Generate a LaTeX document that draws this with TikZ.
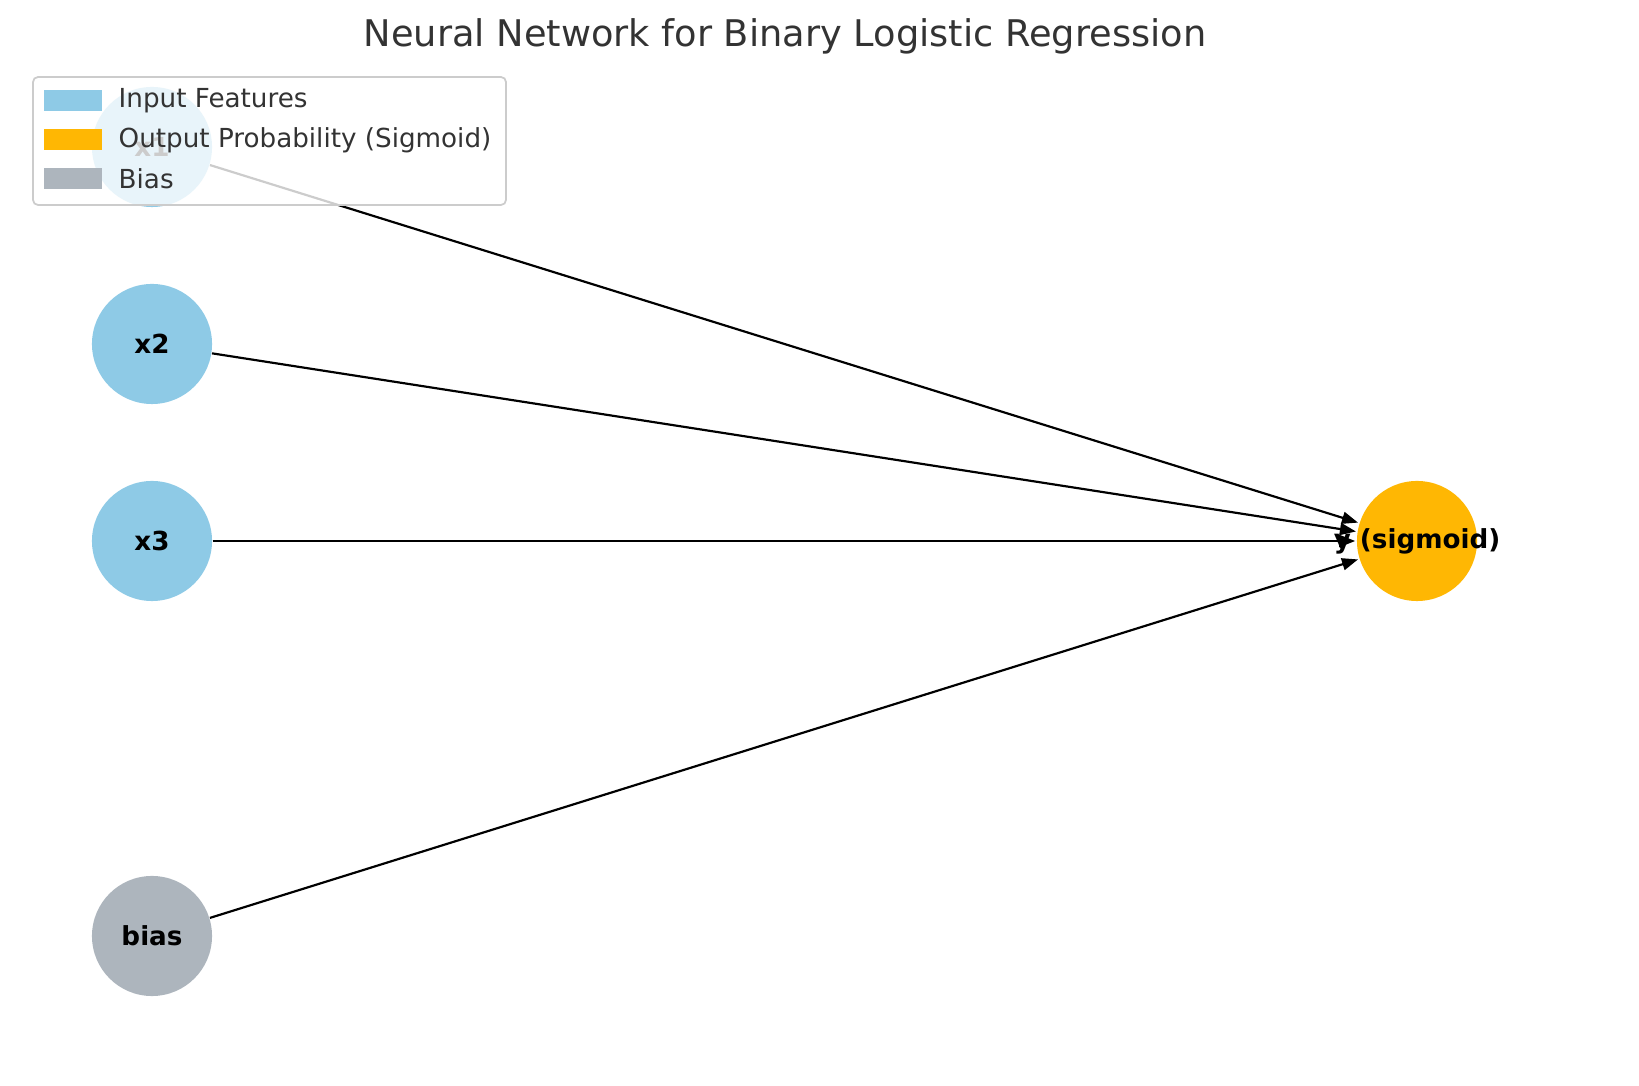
\documentclass[tikz,border=0pt]{standalone}
\usepackage{fontspec}
\setmainfont{DejaVu Sans}
\usepackage{tikz}
\usetikzlibrary{arrows.meta}
\definecolor{featblue}{HTML}{8ECAE6}
\definecolor{outorange}{HTML}{FFB703}
\definecolor{biasgrey}{HTML}{ADB5BD}
\definecolor{txtgrey}{HTML}{333333}

\begin{document}
\begin{tikzpicture}[x=0.01cm, y=-0.01cm,
        neuron/.style={circle, minimum size=1.2cm, inner sep=0pt,
            font=\fontsize{7.45}{9}\selectfont\bfseries},
        link/.style={-{Stealth[length=0.16cm, width=0.12cm, inset=0pt]},
            line width=0.62pt, shorten >=0.3pt},
        swatch/.style={minimum width=0.58cm, minimum height=0.21cm,
            inner sep=0pt},
        legtext/.style={anchor=west, inner sep=0pt, text=txtgrey,
            font=\fontsize{7.45}{9}\selectfont}]
        \useasboundingbox (0,0) rectangle (1639,1086);

        \node[text=txtgrey, font=\fontsize{10.45}{12}\selectfont] (title)
        at (785,36) {Neural Network for Binary Logistic Regression};

        % input layer
        \node[neuron, fill=featblue] (x1) at (152,147) {x1};
        \node[neuron, fill=featblue] (x2) at (152,344) {x2};
        \node[neuron, fill=featblue] (x3) at (152,541) {x3};
        \node[neuron, fill=biasgrey] (bias) at (152,936) {bias};

        % output
        \node[neuron, fill=outorange] (y) at (1417,541) {};

        \draw[link] (x1) -- (y);
        \draw[link] (x2) -- (y);
        \draw[link] (x3) -- (y);
        \draw[link] (bias) -- (y);

        \node[font=\fontsize{7.45}{9}\selectfont\bfseries] (ylabel) at (y)
        {y (sigmoid)};

        % legend
        \draw[rounded corners=0.05cm, draw=black!20, line width=0.5pt,
        fill=white, fill opacity=0.8] (33,77) rectangle (506,205);
        \node[swatch, fill=featblue] (sw1) at (73,101) {};
        \node[legtext] (lg1) at (118,101) {Input Features};
        \node[swatch, fill=outorange] (sw2) at (73,140) {};
        \node[legtext] (lg2) at (118,140) {Output Probability (Sigmoid)};
        \node[swatch, fill=biasgrey] (sw3) at (73,179) {};
        \node[legtext] (lg3) at (118,179) {Bias};

\end{tikzpicture}
\end{document}
